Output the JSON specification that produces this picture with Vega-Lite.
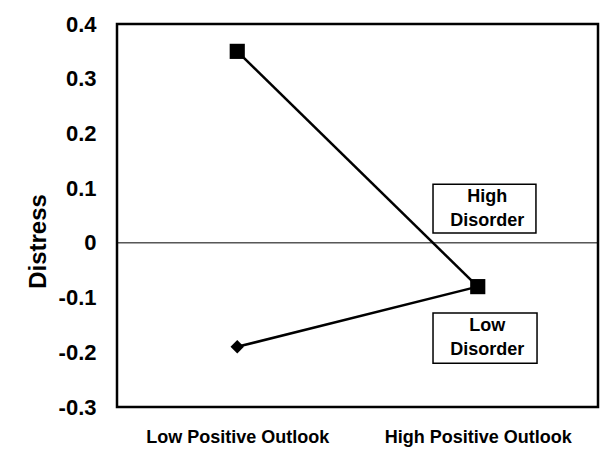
{
  "$schema": "https://vega.github.io/schema/vega-lite/v6.json",
  "autosize": "none",
  "width": 481,
  "height": 383,
  "padding": {"left": 117, "top": 24, "right": 17, "bottom": 53},
  "background": "white",
  "config": {
    "view": {"stroke": "black", "strokeWidth": 2.5},
    "font": "Liberation Sans"
  },
  "datasets": {
    "pts": [
      {"outlook": 1, "disorder": "Low Disorder", "distress": -0.19},
      {"outlook": 3, "disorder": "Low Disorder", "distress": -0.08},
      {"outlook": 1, "disorder": "High Disorder", "distress": 0.35},
      {"outlook": 3, "disorder": "High Disorder", "distress": -0.08}
    ],
    "boxes": [
      {"label": ["High", "Disorder"], "x1": 2.628, "x2": 3.484, "y1": 0.107, "y2": 0.018, "tx": 3.08, "ty": 0.062},
      {"label": ["Low", "Disorder"], "x1": 2.628, "x2": 3.493, "y1": -0.128, "y2": -0.22, "tx": 3.08, "ty": -0.174}
    ]
  },
  "layer": [
    {
      "data": {"values": [{"y": 0}]},
      "mark": {"type": "rule", "color": "black", "strokeWidth": 1},
      "encoding": {
        "y": {
          "field": "y", "type": "quantitative",
          "scale": {"domain": [-0.3, 0.4], "nice": false, "zero": false},
          "axis": {
            "title": "Distress",
            "titleFont": "Liberation Sans", "titleFontSize": 24, "titleFontWeight": "bold", "titleColor": "black",
            "titlePadding": 8, "titleY": 217,
            "values": [-0.3, -0.2, -0.1, 0, 0.1, 0.2, 0.3, 0.4],
            "labelExpr": "datum.value == 0 ? '0' : (datum.value < 0 ? '-' : '') + format(abs(datum.value), '.1f')",
            "labelFont": "Liberation Sans", "labelFontSize": 22, "labelFontWeight": "bold", "labelColor": "black",
            "labelPadding": 21, "ticks": false, "domain": false, "grid": false
          }
        }
      }
    },
    {
      "data": {"name": "boxes"},
      "mark": {"type": "rect", "fill": "white", "stroke": "black", "strokeWidth": 1.5},
      "encoding": {
        "x": {
          "field": "x1", "type": "quantitative",
          "scale": {"domain": [0, 4], "nice": false, "zero": false},
          "axis": {
            "title": null,
            "values": [1, 3],
            "labelExpr": "datum.value == 1 ? 'Low Positive Outlook' : 'High Positive Outlook'",
            "labelFont": "Liberation Sans", "labelFontSize": 18, "labelFontWeight": "bold", "labelColor": "black",
            "labelPadding": 21, "labelLimit": 400, "labelOverlap": false, "ticks": false, "domain": false, "grid": false
          }
        },
        "x2": {"field": "x2"},
        "y": {"field": "y1", "type": "quantitative"},
        "y2": {"field": "y2"}
      }
    },
    {
      "data": {"name": "boxes"},
      "mark": {"type": "text", "font": "Liberation Sans", "fontWeight": "bold", "fontSize": 18, "lineHeight": 24, "align": "center", "baseline": "middle", "dy": -12, "color": "black"},
      "encoding": {
        "x": {"field": "tx", "type": "quantitative"},
        "y": {"field": "ty", "type": "quantitative"},
        "text": {"field": "label"}
      }
    },
    {
      "data": {"name": "pts"},
      "mark": {"type": "line", "color": "black", "strokeWidth": 2.5},
      "encoding": {
        "x": {"field": "outlook", "type": "quantitative"},
        "y": {"field": "distress", "type": "quantitative"},
        "detail": {"field": "disorder", "type": "nominal"}
      }
    },
    {
      "data": {"name": "pts"},
      "transform": [{"filter": "datum.disorder == 'Low Disorder'"}],
      "mark": {"type": "point", "shape": "diamond", "filled": true, "color": "black", "size": 180, "opacity": 1},
      "encoding": {
        "x": {"field": "outlook", "type": "quantitative"},
        "y": {"field": "distress", "type": "quantitative"}
      }
    },
    {
      "data": {"name": "pts"},
      "transform": [{"filter": "datum.disorder == 'High Disorder'"}],
      "mark": {"type": "point", "shape": "square", "filled": true, "color": "black", "size": 230, "opacity": 1},
      "encoding": {
        "x": {"field": "outlook", "type": "quantitative"},
        "y": {"field": "distress", "type": "quantitative"}
      }
    }
  ]
}
